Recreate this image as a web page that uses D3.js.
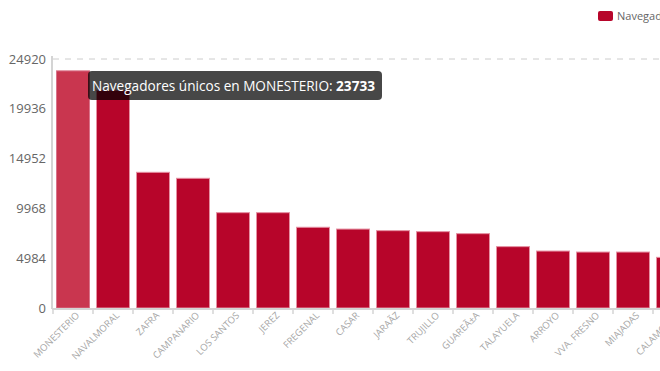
<!DOCTYPE html>
<html><head><meta charset="utf-8">
<script src="https://cdn.jsdelivr.net/npm/d3@7"></script>
<style>body{margin:0;background:#fff;overflow:hidden}svg{display:block;font-family:"Open Sans",sans-serif}</style>
</head><body>
<svg id="c" width="660" height="371"></svg>
<script>
const categories = ["MONESTERIO","NAVALMORAL","ZAFRA","CAMPANARIO","LOS SANTOS","JEREZ","FREGENAL","CASAR","JARAÃZ","TRUJILLO","GUAREÃ±A","TALAYUELA","ARROYO","VVA. FRESNO","MIAJADAS","CALAMONTE"];
const values = [23733, 21800, 13580, 12980, 9540, 9540, 8080, 7900, 7740, 7640, 7440, 6140, 5700, 5600, 5600, 5070];
const yTicks = [0, 4984, 9968, 14952, 19936, 24920];
const seriesName = "Navegadores únicos";
const hovered = 0;

const svg = d3.select("#c");
const x = d3.scaleBand().domain(categories).range([53, 53 + 40 * categories.length]).paddingInner(0.175).paddingOuter(0.0875);
const y = d3.scaleLinear().domain([0, 24920]).range([308, 59]);

// top dashed grid line
svg.append("line").attr("x1", 53).attr("x2", 660).attr("y1", y(24920)).attr("y2", y(24920))
  .attr("stroke", "#ccc").attr("stroke-dasharray", "6,6");

// y axis
const ya = svg.append("g");
ya.selectAll("text").data(yTicks).join("text")
  .attr("x", 46).attr("y", d => y(d)).attr("dy", "0.35em").attr("text-anchor", "end")
  .attr("font-size", 13).attr("fill", "#666").text(d => d);
svg.append("line").attr("x1", 52).attr("x2", 52).attr("y1", y(24920) - 3).attr("y2", 309)
  .attr("stroke", "#d4d4d4").attr("stroke-width", 2);

// bars
svg.append("g").selectAll("rect").data(categories).join("rect")
  .attr("x", d => x(d)).attr("width", x.bandwidth())
  .attr("y", (d, i) => y(values[i])).attr("height", (d, i) => y(0) - y(values[i]))
  .attr("fill", (d, i) => i === hovered ? "#c9364f" : "#b7052a")
  .attr("stroke", (d, i) => i === hovered ? "#d9738a" : "#e590a2").attr("stroke-width", 1);

// x axis
svg.append("line").attr("x1", 52).attr("x2", 660).attr("y1", 309).attr("y2", 309)
  .attr("stroke", "#d4d4d4").attr("stroke-width", 2);
const step = x.step();
svg.append("g").selectAll("line").data(categories).join("line")
  .attr("x1", d => x(d) - x.paddingOuter() * step).attr("x2", d => x(d) - x.paddingOuter() * step)
  .attr("y1", 309).attr("y2", 314).attr("stroke", "#d4d4d4").attr("stroke-width", 1.5);
svg.append("g").selectAll("text").data(categories).join("text")
  .attr("transform", d => `translate(${x(d) + x.bandwidth() / 2 + 7},${316}) rotate(-45)`)
  .attr("text-anchor", "end").attr("font-size", 9.5).attr("fill", "#a6a6a6").text(d => d);

// legend
svg.append("rect").attr("x", 598).attr("y", 11).attr("width", 15).attr("height", 10).attr("rx", 2)
  .attr("fill", "#b7052a");
svg.append("text").attr("x", 617).attr("y", 20).attr("font-size", 11).attr("fill", "#666").text(seriesName);

// tooltip
const tg = svg.append("g");
tg.append("rect").attr("x", 88).attr("y", 71).attr("width", 294).attr("height", 29).attr("rx", 4)
  .attr("fill", "rgba(0,0,0,0.72)");
const tt = tg.append("text").attr("x", 92).attr("y", 91).attr("font-size", 13.6).attr("fill", "#fff");
tt.append("tspan").text(seriesName + " en " + categories[hovered] + ": ");
tt.append("tspan").attr("font-weight", "bold").text(values[hovered]);
</script>
</body></html>
